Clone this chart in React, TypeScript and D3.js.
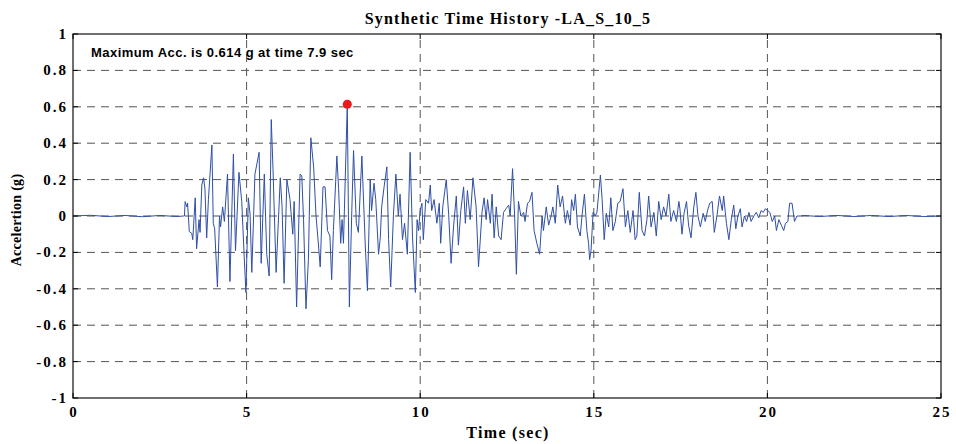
import React from "react";
import * as d3 from "d3";

const times: number[] = [
  0, 0.5, 1.0, 1.5, 2.0, 2.5, 3.0, 3.18,
  3.21, 3.23, 3.28, 3.30, 3.35, 3.42, 3.45, 3.52, 3.56, 3.63, 3.66, 3.71, 3.76, 3.80, 3.85, 3.90, 4.00, 4.04, 4.08, 4.16, 4.22, 4.25, 4.31, 4.36, 4.45, 4.52, 4.62, 4.68, 4.78, 4.86, 4.93, 4.98, 5.05, 5.10, 5.15, 5.24, 5.36, 5.42, 5.51, 5.58, 5.65, 5.71, 5.76, 5.85,
  5.97, 6.02, 6.08, 6.16, 6.25, 6.33, 6.37, 6.44, 6.54, 6.59, 6.64, 6.71, 6.78, 6.85, 6.93, 7.00, 7.07, 7.12, 7.20, 7.26, 7.33, 7.40, 7.45, 7.50, 7.60, 7.65, 7.71, 7.75, 7.79, 7.90, 7.96, 8.03, 8.08, 8.16, 8.22, 8.32, 8.42, 8.48, 8.56, 8.60, 8.67, 8.72, 8.80,
  8.85, 8.89, 8.96, 9.04, 9.09, 9.15, 9.23, 9.30, 9.37, 9.42, 9.49, 9.55, 9.63, 9.71, 9.78, 9.86, 9.91, 9.95, 10.0, 10.05, 10.09, 10.16, 10.24, 10.29, 10.33, 10.40, 10.48, 10.55, 10.59, 10.65, 10.75, 10.82, 10.89, 10.96, 11.04, 11.10, 11.17, 11.25, 11.30, 11.36, 11.44, 11.52, 11.61, 11.68,
  11.78, 11.84, 11.90, 11.94, 12.02, 12.07, 12.13, 12.19, 12.26, 12.33, 12.40, 12.47, 12.55, 12.59, 12.66, 12.72, 12.77, 12.83, 12.90, 12.98, 13.02, 13.09, 13.15, 13.22, 13.28, 13.36, 13.44, 13.51, 13.55, 13.63, 13.70, 13.77, 13.82, 13.89, 13.96, 14.03, 14.10, 14.18, 14.24, 14.32, 14.36, 14.42, 14.47,
  14.53, 14.61, 14.66, 14.73, 14.80, 14.85, 14.88, 14.92, 14.98, 15.04, 15.09, 15.19, 15.24, 15.30, 15.36, 15.43, 15.49, 15.55, 15.62, 15.69, 15.76, 15.84, 15.91, 15.98, 16.05, 16.13, 16.19, 16.24, 16.31, 16.39, 16.46, 16.53, 16.58, 16.65, 16.73, 16.80, 16.87, 16.94, 17.01, 17.08, 17.16, 17.22, 17.30, 17.38, 17.45,
  17.48, 17.54, 17.60, 17.67, 17.73, 17.80, 17.88, 17.94, 18.00, 18.07, 18.15, 18.21, 18.28, 18.34, 18.41, 18.47, 18.55, 18.62, 18.70, 18.74, 18.82, 18.89, 18.96, 19.03, 19.09, 19.15, 19.22, 19.27, 19.34, 19.40, 19.47, 19.53, 19.61, 19.68, 19.75, 19.82, 19.88, 19.94, 20.01, 20.07, 20.14, 20.21, 20.26, 20.33, 20.40, 20.47, 20.52, 20.59, 20.64, 20.71, 20.78, 20.85, 20.95,
  21.05, 21.5, 22.0, 22.5, 23.0, 23.5, 24.0, 24.5, 25.0,
];

const acc: number[] = [
  0, 0.004, -0.003, 0.003, -0.004, 0.003, -0.003, 0.0,
  0.0, 0.079, 0.05, 0.07, -0.086, -0.095, -0.13, 0.10, -0.18, -0.02, -0.09, 0.17, 0.21, 0.15, -0.12, 0.09, 0.39, -0.04, -0.07, -0.39, 0.0, -0.06, 0.05, -0.03, 0.23, -0.36, 0.34, -0.19, 0.24, 0.08, -0.22, -0.42, 0.10, 0.01, -0.31, 0.23, 0.35, -0.26, 0.23, -0.21, -0.33, 0.53, 0.26, -0.31,
  0.21, 0.06, -0.37, 0.20, 0.09, -0.10, 0.08, -0.50, 0.23, 0.22, -0.02, -0.51, -0.24, 0.43, 0.27, 0.0, -0.16, -0.28, 0.16, 0.16, -0.08, -0.11, -0.35, -0.08, 0.33, 0.15, -0.15, -0.02, -0.15, 0.614, -0.50, 0.03, 0.36, -0.04, -0.09, 0.33, -0.17, -0.41, 0.20, 0.03, 0.18, 0.09, -0.21,
  -0.12, 0.05, 0.16, 0.27, -0.13, -0.39, 0.01, 0.23, 0.0, 0.12, -0.13, -0.04, -0.21, 0.35, -0.12, -0.42, -0.02, -0.08, 0.03, 0.07, -0.13, 0.09, 0.07, 0.17, 0.03, 0.09, -0.04, 0.07, -0.15, 0.05, 0.20, 0.01, -0.26, -0.06, 0.11, -0.16, 0.03, 0.16, -0.04, 0.14, -0.02, 0.21, 0.05, -0.28,
  0.02, 0.10, -0.02, 0.09, -0.04, 0.12, -0.12, 0.05, -0.11, -0.13, 0.02, 0.04, 0.06, 0.0, 0.26, 0.0, -0.32, 0.08, 0.0, 0.02, -0.03, 0.07, 0.08, 0.13, -0.08, -0.15, -0.21, 0.0, -0.08, 0.05, -0.05, 0.0, 0.05, -0.04, 0.17, 0.05, 0.11, -0.04, 0.03, -0.05, 0.09, 0.03, 0.12,
  -0.06, -0.11, 0.0, 0.12, -0.08, -0.15, -0.24, -0.19, 0.02, 0.0, 0.02, 0.225, 0.09, -0.13, 0.015, -0.06, 0.10, -0.08, -0.03, 0.07, 0.08, 0.15, -0.06, 0.03, -0.09, 0.03, -0.13, -0.11, 0.13, -0.08, -0.11, -0.02, 0.11, -0.06, 0.02, -0.11, 0.08, -0.02, 0.05, 0.0, 0.12, -0.03, 0.03, -0.03, 0.08,
  0.04, -0.10, 0.015, 0.08, -0.05, -0.12, 0.05, 0.13, 0.0, -0.06, 0.015, -0.03, 0.033, 0.07, 0.08, -0.09, 0.005, 0.11, 0.03, 0.11, -0.04, -0.13, -0.02, 0.06, -0.07, 0.0, 0.04, -0.06, 0.0, -0.03, 0.02, -0.03, 0.0, 0.02, -0.01, 0.03, 0.02, 0.04, 0.03, 0.02, -0.03, 0.0, -0.08, -0.02, -0.05, -0.08, -0.04, -0.03, 0.07, 0.07, -0.03, 0.0, 0.0,
  0.003, -0.003, 0.003, -0.003, 0.003, -0.003, 0.003, -0.003, 0.0,
];

const xTicks: number[] = [0, 5, 10, 15, 20, 25];
const yTicks: number[] = [-1, -0.8, -0.6, -0.4, -0.2, 0, 0.2, 0.4, 0.6, 0.8, 1];
const peakTime = 7.9;
const peakAcc = 0.614;
const title = "Synthetic Time History -LA_S_10_5";
const note = "Maximum Acc. is 0.614 g at time 7.9 sec";

const W = 956;
const H = 444;
const M = { left: 73, right: 15, top: 34, bottom: 46 };

export default function App() {
  const x = d3.scaleLinear().domain([0, 25]).range([M.left, W - M.right]);
  const y = d3.scaleLinear().domain([-1, 1]).range([H - M.bottom, M.top]);
  const pts: [number, number][] = times.map((t, i) => [t, acc[i]]);
  const line = d3
    .line<[number, number]>()
    .x((d) => x(d[0]))
    .y((d) => y(d[1]));
  const x0 = M.left;
  const x1 = W - M.right;
  const y0 = H - M.bottom;
  const y1 = M.top;
  const serif = "'Liberation Serif', 'Times New Roman', serif";
  const sans = "'Liberation Sans', Arial, sans-serif";
  const dash = "8,6";
  const grid = "#555";
  return (
    <svg
      width={W}
      height={H}
      style={{ position: "absolute", left: 0, top: 0, display: "block", background: "#fff" }}
    >
      <rect x={0} y={0} width={W} height={H} fill="#fff" />
      {xTicks.slice(1, -1).map((t) => (
        <line key={"gx" + t} x1={x(t)} x2={x(t)} y1={y0} y2={y1} stroke={grid} strokeDasharray={dash} strokeWidth={1} />
      ))}
      {yTicks.slice(1, -1).map((v) => (
        <line key={"gy" + v} x1={x0} x2={x1} y1={y(v)} y2={y(v)} stroke={grid} strokeDasharray={dash} strokeWidth={1} />
      ))}
      <path d={line(pts) || ""} fill="none" stroke="#2f4fa5" strokeWidth={1} strokeLinejoin="round" />
      <circle cx={x(peakTime)} cy={y(peakAcc)} r={4.5} fill="#f01818" />
      <rect x={x0} y={y1} width={x1 - x0} height={y0 - y1} fill="none" stroke="#222" strokeWidth={1.3} />
      {xTicks.map((t) => (
        <g key={"tx" + t}>
          <line x1={x(t)} x2={x(t)} y1={y0} y2={y0 - 5} stroke="#000" />
          <line x1={x(t)} x2={x(t)} y1={y1} y2={y1 + 5} stroke="#000" />
          <text x={x(t) + 1} y={y0 + 19} textAnchor="middle" fontFamily={serif} fontWeight="bold" fontSize={15} letterSpacing={2}>
            {String(t)}
          </text>
        </g>
      ))}
      {yTicks.map((v) => (
        <g key={"ty" + v}>
          <line x1={x0} x2={x0 + 5} y1={y(v)} y2={y(v)} stroke="#000" />
          <line x1={x1} x2={x1 - 5} y1={y(v)} y2={y(v)} stroke="#000" />
          <text x={x0 - 5} y={y(v) + 5} textAnchor="end" fontFamily={serif} fontWeight="bold" fontSize={15} letterSpacing={2}>
            {String(Math.round(v * 10) / 10)}
          </text>
        </g>
      ))}
      <text x={(x0 + x1) / 2 + 1} y={24} textAnchor="middle" fontFamily={serif} fontWeight="bold" fontSize={16} letterSpacing={1.2}>
        {title}
      </text>
      <text x={91} y={57} fontFamily={sans} fontWeight="bold" fontSize={13} letterSpacing={0.45}>
        {note}
      </text>
      <text
        transform={`translate(21,${(y0 + y1) / 2 + 4}) rotate(-90)`}
        textAnchor="middle"
        fontFamily={serif}
        fontWeight="bold"
        fontSize={14}
        letterSpacing={0.3}
      >
        Accelertion (g)
      </text>
      <text x={(x0 + x1) / 2 + 1} y={438} textAnchor="middle" fontFamily={serif} fontWeight="bold" fontSize={16} letterSpacing={1.3}>
        Time (sec)
      </text>
    </svg>
  );
}
